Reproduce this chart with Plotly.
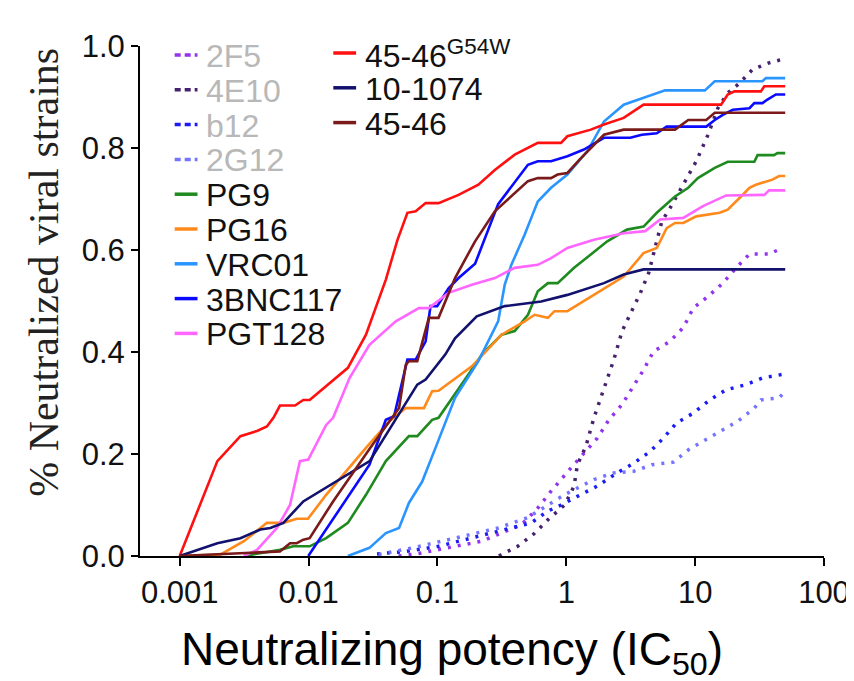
import plotly.graph_objects as go

# Cumulative neutralization curves, IC50 (x) vs fraction of strains neutralized (y)
x_2f5 = [0.05, 0.072, 0.137, 0.221, 0.333, 0.448, 0.601, 0.762, 1.09, 1.37, 1.74, 2.14, 2.71, 3.24,
         3.98, 4.75, 6.38, 8.1, 9.66, 12.6, 16.4, 20.8, 26.4, 37.5, 44.8]
y_2f5 = [0.0, 0.005, 0.019, 0.029, 0.048, 0.061, 0.094, 0.127, 0.173, 0.202, 0.231, 0.267, 0.297, 0.329,
         0.365, 0.401, 0.421, 0.448, 0.486, 0.509, 0.535, 0.565, 0.592, 0.592, 0.601]

x_4e10 = [0.3, 0.42, 0.57, 0.72, 0.97, 1.15, 1.22, 1.42, 1.64, 1.96, 2.34, 2.71, 3.24, 3.76, 4.36, 4.9,
          5.51, 6.38, 8.1, 10.2, 12.6, 15.0, 17.9, 22.1, 27.9, 37.5, 46.1]
y_4e10 = [0.0, 0.019, 0.045, 0.071, 0.10, 0.137, 0.179, 0.215, 0.271, 0.329, 0.385, 0.441, 0.48, 0.516,
          0.555, 0.604, 0.656, 0.682, 0.728, 0.774, 0.826, 0.878, 0.908, 0.927, 0.954, 0.967, 0.973]

x_b12 = [0.034, 0.057, 0.102, 0.185, 0.333, 0.535, 0.718, 0.91, 1.22, 1.74, 2.48, 3.34, 4.48, 5.67,
         7.18, 9.66, 13.0, 17.4, 24.8, 33.3, 47.5]
y_b12 = [0.004, 0.009, 0.019, 0.035, 0.052, 0.065, 0.088, 0.10, 0.117, 0.137, 0.163, 0.182, 0.205, 0.231,
         0.261, 0.28, 0.306, 0.326, 0.336, 0.349, 0.356]

x_2g12 = [0.035, 0.064, 0.137, 0.296, 0.5, 0.72, 0.966, 1.64, 2.34, 3.34, 4.61, 6.78, 8.84, 11.5, 15.9,
          21.4, 28.8, 32.4, 44.8, 50]
y_2g12 = [0.003, 0.016, 0.035, 0.055, 0.075, 0.10, 0.12, 0.15, 0.163, 0.166, 0.179, 0.184, 0.208, 0.225,
          0.245, 0.264, 0.29, 0.306, 0.31, 0.323]

x_pg9 = [0.00315, 0.006, 0.0076, 0.0102, 0.0137, 0.0202, 0.0279, 0.0398, 0.0601, 0.0698, 0.091, 0.102,
         0.174, 0.221, 0.315, 0.398, 0.504, 0.601, 0.72, 0.857, 1.15, 2.08, 2.96, 3.98, 5.04, 6.98, 8.84,
         10.5, 14.2, 17.9, 28.8, 30.5, 41, 43.5, 50]
y_pg9 = [0.0, 0.012, 0.019, 0.019, 0.035, 0.065, 0.12, 0.186, 0.235, 0.235, 0.267, 0.271, 0.356, 0.395,
         0.434, 0.441, 0.473, 0.519, 0.535, 0.535, 0.565, 0.617, 0.64, 0.646, 0.673, 0.705, 0.722, 0.741,
         0.761, 0.773, 0.773, 0.786, 0.786, 0.79, 0.79]

x_pg16 = [0.001, 0.00208, 0.00315, 0.00475, 0.00638, 0.0081, 0.0099, 0.0137, 0.0279, 0.0423, 0.0568,
          0.0786, 0.091, 0.102, 0.185, 0.315, 0.475, 0.568, 0.72, 0.81, 1.02, 1.96, 2.79, 3.98, 5.04,
          6.01, 6.98, 8.1, 10.2, 15.5, 17.9, 22.1, 26.4, 29.6, 36.4, 39.8, 44.8, 50]
y_pg16 = [0.0, 0.003, 0.029, 0.065, 0.065, 0.073, 0.073, 0.12, 0.212, 0.264, 0.29, 0.29, 0.323, 0.324,
          0.372, 0.434, 0.46, 0.473, 0.467, 0.48, 0.48, 0.525, 0.548, 0.594, 0.604, 0.643, 0.653, 0.653,
          0.666, 0.673, 0.679, 0.702, 0.722, 0.728, 0.735, 0.738, 0.745, 0.745]

x_vrc01 = [0.0202, 0.0297, 0.0398, 0.0504, 0.0601, 0.0762, 0.0966, 0.137, 0.208, 0.296, 0.333, 0.375,
           0.475, 0.601, 0.762, 1.02, 1.46, 1.96, 2.79, 3.98, 5.85, 11.9, 14.2, 33.3, 35.4, 50]
y_vrc01 = [0.0, 0.016, 0.045, 0.055, 0.104, 0.146, 0.212, 0.31, 0.382, 0.46, 0.532, 0.571, 0.63, 0.695,
           0.722, 0.748, 0.794, 0.852, 0.885, 0.898, 0.913, 0.913, 0.931, 0.931, 0.937, 0.937]

x_3bnc = [0.00995, 0.0297, 0.0398, 0.0461, 0.0585, 0.0678, 0.081, 0.0884, 0.0996, 0.122, 0.146, 0.196,
          0.296, 0.504, 0.601, 0.762, 1.02, 1.37, 1.96, 3.14, 3.86, 5.04, 6.01, 12.2, 14.2, 16.4, 19.6,
          26.4, 28.8, 33.3, 36.4, 42.3, 50]
y_3bnc = [0.0, 0.179, 0.267, 0.274, 0.385, 0.385, 0.421, 0.49, 0.49, 0.525, 0.545, 0.573, 0.69, 0.767,
          0.774, 0.774, 0.784, 0.797, 0.82, 0.82, 0.826, 0.829, 0.842, 0.842, 0.855, 0.865, 0.875, 0.878,
          0.888, 0.888, 0.895, 0.905, 0.905]

x_pgt128 = [0.00315, 0.00398, 0.00568, 0.00718, 0.00857, 0.00995, 0.0137, 0.0155, 0.0208, 0.0297, 0.0475,
            0.0718, 0.0858, 0.122, 0.185, 0.279, 0.398, 0.601, 0.762, 1.02, 1.64, 2.79, 4.1, 5.35, 8.1,
            11.5, 17.4, 34.4, 37.5, 50]
y_pgt128 = [0.0, 0.012, 0.055, 0.1, 0.186, 0.189, 0.257, 0.271, 0.349, 0.414, 0.46, 0.486, 0.486, 0.516,
            0.532, 0.545, 0.565, 0.571, 0.584, 0.604, 0.62, 0.633, 0.637, 0.66, 0.663, 0.686, 0.707, 0.708,
            0.717, 0.717]

x_g54w = [0.001, 0.00196, 0.00296, 0.00398, 0.00475, 0.00534, 0.006, 0.00785, 0.0091, 0.0102, 0.0202,
          0.0279, 0.0398, 0.049, 0.0585, 0.0678, 0.081, 0.102, 0.146, 0.208, 0.279, 0.398, 0.601, 0.91,
          1.02, 1.55, 1.96, 2.79, 3.98, 15.9, 17.9, 20.2, 32.4, 34.4, 50]
y_g54w = [0.0, 0.186, 0.235, 0.245, 0.254, 0.271, 0.295, 0.295, 0.306, 0.306, 0.369, 0.434, 0.542, 0.62,
          0.673, 0.676, 0.692, 0.692, 0.708, 0.728, 0.757, 0.787, 0.81, 0.81, 0.823, 0.836, 0.846, 0.859,
          0.885, 0.885, 0.905, 0.911, 0.911, 0.921, 0.921]

x_101074 = [0.001, 0.00196, 0.00296, 0.00423, 0.00505, 0.00638, 0.0091, 0.0298, 0.0698, 0.081, 0.115,
            0.137, 0.202, 0.333, 0.638, 1.02, 1.96, 2.79, 3.98, 50]
y_101074 = [0.0, 0.025, 0.035, 0.052, 0.055, 0.065, 0.107, 0.186, 0.336, 0.346, 0.395, 0.427, 0.47, 0.49,
            0.499, 0.512, 0.535, 0.552, 0.562, 0.562]

x_4546 = [0.001, 0.003, 0.006, 0.00718, 0.0081, 0.0091, 0.0102, 0.0155, 0.0297, 0.0504, 0.0568, 0.0601,
          0.0698, 0.0858, 0.102, 0.137, 0.196, 0.279, 0.504, 0.601, 0.762, 0.857, 1.02, 1.3, 1.96, 2.79,
          6.98, 8.84, 12.2, 14.2, 50]
y_4546 = [0.0, 0.005, 0.009, 0.025, 0.025, 0.032, 0.035, 0.107, 0.21, 0.29, 0.375, 0.382, 0.382, 0.467,
          0.467, 0.545, 0.617, 0.676, 0.735, 0.741, 0.741, 0.748, 0.751, 0.78, 0.826, 0.836, 0.836, 0.855,
          0.855, 0.869, 0.869]

y_ticks = [0.0, 0.2, 0.4, 0.6, 0.8, 1.0]
x_ticks = [0.001, 0.01, 0.1, 1, 10, 100]
x_tick_labels = ['0.001', '0.01', '0.1', '1', '10', '100']

# (label, x, y, colour, dotted, legend column, legend row)
series = [
    ('2F5', x_2f5, y_2f5, '#9233f0', True, 0, 0),
    ('4E10', x_4e10, y_4e10, '#46226e', True, 0, 1),
    ('b12', x_b12, y_b12, '#1c1cf5', True, 0, 2),
    ('2G12', x_2g12, y_2g12, '#7474ff', True, 0, 3),
    ('PG9', x_pg9, y_pg9, '#1f8a1f', False, 0, 4),
    ('PG16', x_pg16, y_pg16, '#ff8a1c', False, 0, 5),
    ('VRC01', x_vrc01, y_vrc01, '#2b95ff', False, 0, 6),
    ('3BNC117', x_3bnc, y_3bnc, '#0a0aff', False, 0, 7),
    ('PGT128', x_pgt128, y_pgt128, '#ff66ff', False, 0, 8),
    ('45-46<sup>G54W</sup>', x_g54w, y_g54w, '#ff1010', False, 1, 0),
    ('10-1074', x_101074, y_101074, '#12126e', False, 1, 1),
    ('45-46', x_4546, y_4546, '#7a1a1a', False, 1, 2),
]

fig = go.Figure()

# Plot area in pixels: x 132..822, y 38..548.
L, R, T, B = 132, 822, 38, 548
def px(xp):
    return (xp - L) / (R - L)
def py(yp):
    return (B - yp) / (B - T)

shapes = []
annotations = []
for name, xs, ys, color, dotted, col, row in series:
    fig.add_trace(go.Scatter(
        x=xs, y=ys, mode='lines', name=name,
        line=dict(color=color, width=3.5 if dotted else 2.6,
                  dash='3px,7px' if dotted else 'solid'),
    ))
    # Hand-built legend entry.
    yc = (47 if col == 0 else 45) + row * 34.8
    x0 = 167 if col == 0 else 327
    shapes.append(dict(
        type='line', xref='paper', yref='paper',
        x0=px(x0), x1=px(x0 + 23), y0=py(yc), y1=py(yc),
        line=dict(color=color, width=3.5, dash='6px,4px' if dotted else 'solid'),
    ))
    annotations.append(dict(
        text=name, xref='paper', yref='paper', x=px(x0 + 30), y=py(yc + 1),
        xanchor='left', yanchor='middle', showarrow=False,
        font=dict(family='Liberation Sans, Arial', size=32,
                  color='#b8b8b8' if dotted else '#111111'),
    ))

annotations.append(dict(
    text='Neutralizing potency (IC<sub>50</sub>)', xref='paper', yref='paper',
    x=px(447), y=py(644), xanchor='center', yanchor='middle', showarrow=False,
    font=dict(family='Liberation Sans, Arial', size=46, color='#000000'),
))
annotations.append(dict(
    text='% Neutralized viral strains', xref='paper', yref='paper',
    x=px(35), y=py(264), xanchor='center', yanchor='middle', showarrow=False,
    textangle=-90,
    font=dict(family='Liberation Serif, Times New Roman', size=42, color='#222222'),
))

fig.update_layout(
    width=854, height=681,
    margin=dict(l=L, r=854 - R, t=T, b=681 - B),
    paper_bgcolor='white', plot_bgcolor='white',
    showlegend=False,
    shapes=shapes, annotations=annotations,
    font=dict(family='Liberation Sans, Arial', color='#000000'),
)

fig.update_xaxes(
    type='log', range=[-3.308, 2.0],
    tickvals=x_ticks, ticktext=x_tick_labels,
    showgrid=False, zeroline=False,
    showline=True, linecolor='black', linewidth=2,
    ticks='outside', ticklen=8, tickwidth=2, tickcolor='black',
    tickfont=dict(size=31, color='#111111'),
)
fig.update_yaxes(
    range=[0, 1.0], tickvals=y_ticks, tickformat='.1f',
    showgrid=False, zeroline=False,
    showline=True, linecolor='black', linewidth=2,
    ticks='outside', ticklen=7, tickwidth=2, tickcolor='black',
    tickfont=dict(size=31, color='#111111'),
)

fig.write_html("out.html")
